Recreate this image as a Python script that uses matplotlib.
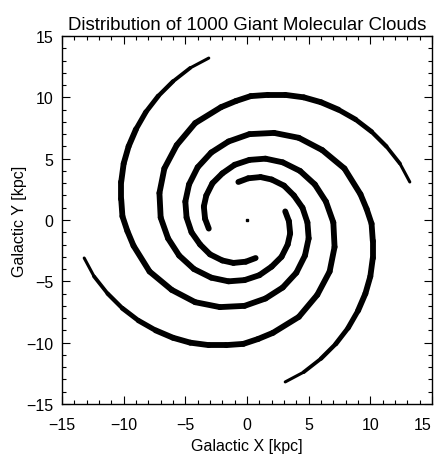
import matplotlib
matplotlib.use("Agg")
import matplotlib.pyplot as plt
from matplotlib.collections import LineCollection
from matplotlib.ticker import MultipleLocator
import numpy as np

# Arm centre lines (kpc), outer tip -> inner tip
arm1_x = [13.2, 12.4, 11.3, 10.1, 8.8, 7.4, 6.0, 4.6, 3.1, 1.7, 0.3, -0.9, -2.1, -4.2,
          -5.7, -6.7, -7.1, -7.0, -6.4, -5.5, -4.3, -2.9, -1.5, -0.2, 1.0, 2.0, 2.8,
          3.3, 3.5, 3.4, 3.1]
arm1_y = [3.1, 4.6, 6.0, 7.2, 8.2, 9.0, 9.6, 10.0, 10.2, 10.2, 10.1, 9.7, 9.2, 7.9,
          6.1, 4.2, 2.2, 0.2, -1.5, -2.9, -4.0, -4.7, -5.0, -4.9, -4.5, -3.8, -3.0,
          -2.0, -1.1, -0.1, 0.7]

arm2_x = [-3.1, -4.6, -6.0, -7.2, -8.2, -9.0, -9.6, -10.0, -10.2, -10.2, -10.1, -9.7,
          -9.2, -7.9, -6.1, -4.2, -2.2, -0.2, 1.5, 2.9, 4.0, 4.7, 5.0, 4.9, 4.5, 3.8,
          3.0, 2.0, 1.1, 0.1, -0.7]
arm2_y = [13.2, 12.4, 11.3, 10.1, 8.8, 7.4, 6.0, 4.6, 3.1, 1.7, 0.3, -0.9, -2.1, -4.2,
          -5.7, -6.7, -7.1, -7.0, -6.4, -5.5, -4.3, -2.9, -1.5, -0.2, 1.0, 2.0, 2.8,
          3.3, 3.5, 3.4, 3.1]

arm3_x = [-13.2, -12.4, -11.3, -10.1, -8.8, -7.4, -6.0, -4.6, -3.1, -1.7, -0.3, 0.9,
          2.1, 4.2, 5.7, 6.7, 7.1, 7.0, 6.4, 5.5, 4.3, 2.9, 1.5, 0.2, -1.0, -2.0, -2.8,
          -3.3, -3.5, -3.4, -3.1]
arm3_y = [-3.1, -4.6, -6.0, -7.2, -8.2, -9.0, -9.6, -10.0, -10.2, -10.2, -10.1, -9.7,
          -9.2, -7.9, -6.1, -4.2, -2.2, -0.2, 1.5, 2.9, 4.0, 4.7, 5.0, 4.9, 4.5, 3.8,
          3.0, 2.0, 1.1, 0.1, -0.7]

arm4_x = [3.1, 4.6, 6.0, 7.2, 8.2, 9.0, 9.6, 10.0, 10.2, 10.2, 10.1, 9.7, 9.2, 7.9,
          6.1, 4.2, 2.2, 0.2, -1.5, -2.9, -4.0, -4.7, -5.0, -4.9, -4.5, -3.8, -3.0,
          -2.0, -1.1, -0.1, 0.7]
arm4_y = [-13.2, -12.4, -11.3, -10.1, -8.8, -7.4, -6.0, -4.6, -3.1, -1.7, -0.3, 0.9,
          2.1, 4.2, 5.7, 6.7, 7.1, 7.0, 6.4, 5.5, 4.3, 2.9, 1.5, 0.2, -1.0, -2.0, -2.8,
          -3.3, -3.5, -3.4, -3.1]

arms = [(arm1_x, arm1_y), (arm2_x, arm2_y), (arm3_x, arm3_y), (arm4_x, arm4_y)]

major_ticks = [-15, -10, -5, 0, 5, 10, 15]

title = "Distribution of 1000 Giant Molecular Clouds"
xlabel = "Galactic X [kpc]"
ylabel = "Galactic Y [kpc]"

plt.rcParams['font.family'] = ['Liberation Sans', 'DejaVu Sans']

fig = plt.figure(figsize=(4.39, 4.56), dpi=100)
ax = fig.add_axes([62/439, 1 - 405/456, 370/439, 368/456])

for xs, ys in arms:
    pts = np.column_stack([xs, ys])
    segs = [pts[i:i+2] for i in range(len(pts) - 1)]
    # thinner at the outer tip
    lw = [2.2, 2.7, 3.1, 3.5, 3.8] + [4.2] * (len(segs) - 5)
    lc = LineCollection(segs, colors='black', linewidths=lw, capstyle='round',
                        joinstyle='round')
    ax.add_collection(lc)

ax.plot([0], [0], marker='s', ms=1.6, color='black', ls='none')

ax.set_xlim(-15, 15)
ax.set_ylim(-15, 15)
ax.set_xticks(major_ticks)
ax.set_yticks(major_ticks)
ax.xaxis.set_minor_locator(MultipleLocator(1))
ax.yaxis.set_minor_locator(MultipleLocator(1))
ax.tick_params(which='both', direction='in', top=True, right=True, width=0.8,
               labelsize=11.5)
ax.tick_params(which='major', length=6)
ax.tick_params(which='minor', length=3)
ax.tick_params(axis='x', pad=9)
ax.tick_params(axis='y', pad=6)
for s in ax.spines.values():
    s.set_linewidth(1.0)

ax.set_title(title, fontsize=13.4, pad=5)
ax.set_xlabel(xlabel, fontsize=11.5, labelpad=5)
ax.set_ylabel(ylabel, fontsize=11.5)
ax.yaxis.set_label_coords(-0.095, 0.5)

# last x label pulled inside the frame, as in the original
fig.canvas.draw()
ax.xaxis.get_major_ticks()[-1].label1.set_horizontalalignment('right')

fig.savefig("out.png", dpi=100)
